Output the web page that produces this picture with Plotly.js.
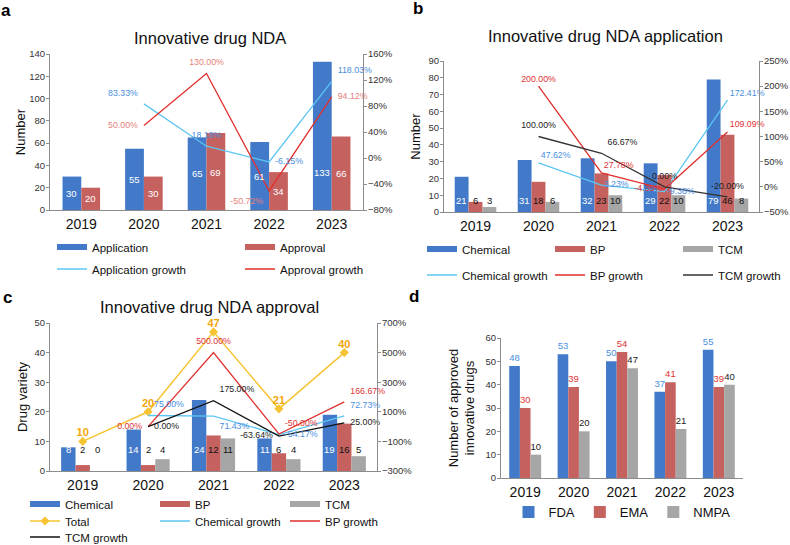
<!DOCTYPE html>
<html><head><meta charset="utf-8">
<script src="https://cdn.plot.ly/plotly-3.0.1.min.js"></script>
<style>html,body{margin:0;padding:0;background:#fff}#chart{width:790px;height:545px}</style>
</head><body><div id="chart"></div>
<script>
// ---------- DATA ----------
const years = ['2019','2020','2021','2022','2023'];
// a: Innovative drug NDA
const ndaApplication = [30,55,65,61,133];
const ndaApproval = [20,30,69,34,66];
const ndaApplicationGrowth = [null,83.33,18.18,-6.15,118.03];
const ndaApprovalGrowth = [null,50.00,130.00,-50.72,94.12];
// b: Innovative drug NDA application
const appChemical = [21,31,32,29,79];
const appBP = [6,18,23,22,46];
const appTCM = [3,6,10,10,8];
const appChemicalGrowth = [null,47.62,3.23,-9.38,172.41];
const appBPGrowth = [null,200.00,27.78,-4.35,109.09];
const appTCMGrowth = [null,100.00,66.67,0.00,-20.00];
// c: Innovative drug NDA approval
const aprChemical = [8,14,24,11,19];
const aprBP = [2,2,12,6,16];
const aprTCM = [0,4,11,4,5];
const aprTotal = [10,20,47,21,40];
const aprChemicalGrowth = [null,75.00,71.43,-54.17,72.73];
const aprBPGrowth = [null,0.00,500.00,-50.00,166.67];
const aprTCMGrowth = [null,0.00,175.00,-63.64,25.00];
// d: approved innovative drugs by agency
const fda = [48,53,50,37,55];
const ema = [30,39,54,41,39];
const nmpa = [10,20,47,21,40];

// ---------- STYLE ----------
const F = 'Arial, "Liberation Sans", Helvetica, sans-serif';
const C = {blue:'#4279C8', red:'#C5625F', gray:'#A6A6A6', lblue:'#5CC6F3', lred:'#E0302E',
  black:'#333333', yellow:'#F6C433', gold:'#F2A60C', blueTxt:'#4A8FE0', redTxtA:'#E57F7B', redTxt:'#E03333'};
const axLine = '#8C8C8C';
const GS = 8.8; // growth label font size
const px = x => x/790, py = y => 1 - y/545;
const pct = arr => arr.map(v => v === null ? '' : v.toFixed(2) + '%');

const traces = [];
const annotations = [];

function bar(name, xa, ya, vals, color, width, offset, extra) {
  return Object.assign({type:'bar', name, x: years, y: vals, xaxis: xa, yaxis: ya, width, offset,
    marker:{color, line:{width:0}}, showlegend:false, hoverinfo:'none'}, extra || {});
}
function line(name, xa, ya, vals, color, lw, legend, extra) {
  return Object.assign({type:'scatter', mode:'lines', name, x: years, y: vals, xaxis: xa, yaxis: ya,
    line:{color, width: lw}, legend, hoverinfo:'none', cliponaxis:false}, extra || {});
}
function labels(xa, ya, vals, txt, color, positions, size, bold, pad) {
  return {type:'scatter', mode:'markers+text', x: years, y: vals, xaxis: xa, yaxis: ya, text: txt,
    textposition: positions, marker:{size: pad === undefined ? 8 : pad, color:'rgba(0,0,0,0)'},
    textfont:{family:F, size: size || 9, color, weight: bold ? 'bold' : 'normal'},
    showlegend:false, hoverinfo:'none', cliponaxis:false};
}
function legendBar(name, color, legend, xa, ya) {
  return {type:'scatter', mode:'lines', name, x:[null], y:[null], xaxis: xa, yaxis: ya,
    line:{color, width:6}, legend, hoverinfo:'none'};
}
function barLabels(xa, ya, series, width, colors, yFn, yshift, size) {
  const n = series.length;
  series.forEach((vals, k) => {
    const off = (k - (n - 1) / 2) * width;
    vals.forEach((v, i) => annotations.push({xref: xa, yref: ya, x: i + off, y: yFn(v), text: String(v),
      showarrow:false, yshift, xanchor:'center', yanchor:'middle',
      font:{family:F, size: size, color: colors[k]}}));
  });
}

// ---------- PANEL a ----------
traces.push(bar('Application','x','y',ndaApplication,C.blue,0.3,-0.3));
traces.push(bar('Approval','x','y',ndaApproval,C.red,0.3,0));
traces.push(legendBar('Application',C.blue,'legend','x','y'));
traces.push(legendBar('Approval',C.red,'legend','x','y'));
traces.push(line('Application growth','x','y2',ndaApplicationGrowth,C.lblue,1.3,'legend2'));
traces.push(line('Approval growth','x','y2',ndaApprovalGrowth,C.lred,1.3,'legend2'));
traces.push(labels('x','y2',ndaApplicationGrowth,pct(ndaApplicationGrowth),C.blueTxt,
  ['top center','top left','top center','middle right','top right'],GS));
traces.push(labels('x','y2',ndaApprovalGrowth,pct(ndaApprovalGrowth),C.redTxtA,
  ['top center','middle left','top center','bottom left','middle right'],GS));
barLabels('x','y',[ndaApplication, ndaApproval],0.3,['#ffffff','#ffffff'],v => Math.min(v/2,34),0,9.5);

// ---------- PANEL b ----------
traces.push(bar('Chemical','x2','y3',appChemical,C.blue,0.22,-0.33));
traces.push(bar('BP','x2','y3',appBP,C.red,0.22,-0.11));
traces.push(bar('TCM','x2','y3',appTCM,C.gray,0.22,0.11));
traces.push(legendBar('Chemical',C.blue,'legend3','x2','y3'));
traces.push(legendBar('BP',C.red,'legend3','x2','y3'));
traces.push(legendBar('TCM',C.gray,'legend3','x2','y3'));
traces.push(line('Chemical growth','x2','y4',appChemicalGrowth,C.lblue,1.3,'legend4'));
traces.push(line('BP growth','x2','y4',appBPGrowth,C.lred,1.3,'legend4'));
traces.push(line('TCM growth','x2','y4',appTCMGrowth,C.black,1.3,'legend4'));
traces.push(labels('x2','y4',appChemicalGrowth,pct(appChemicalGrowth),C.blueTxt,
  ['top center','top right','middle right','middle right','top right'],GS,false,2));
traces.push(labels('x2','y4',appBPGrowth,pct(appBPGrowth),C.redTxt,
  ['top center','top center','top right','middle left','top right'],GS,false,2));
traces.push(labels('x2','y4',appTCMGrowth,pct(appTCMGrowth),'#222222',
  ['top center','top center','top right','top center','top center'],GS));
barLabels('x2','y3',[appChemical, appBP, appTCM],0.22,['#ffffff','#111111','#111111'],v => 0,11,9.5);

// ---------- PANEL c ----------
traces.push(bar('Chemical','x3','y5',aprChemical,C.blue,0.22,-0.33));
traces.push(bar('BP','x3','y5',aprBP,C.red,0.22,-0.11));
traces.push(bar('TCM','x3','y5',aprTCM,C.gray,0.22,0.11));
traces.push(legendBar('Chemical',C.blue,'legend5','x3','y5'));
traces.push(legendBar('BP',C.red,'legend5','x3','y5'));
traces.push(legendBar('TCM',C.gray,'legend5','x3','y5'));
traces.push(line('Total','x3','y5',aprTotal,C.yellow,1.5,'legend6',
  {mode:'lines+markers', marker:{symbol:'diamond', size:7, color:C.yellow}, legendrank:1}));
traces.push(line('Chemical growth','x3','y6',aprChemicalGrowth,C.lblue,1.3,'legend6',{legendrank:2}));
traces.push(line('BP growth','x3','y6',aprBPGrowth,C.lred,1.3,'legend6',{legendrank:3}));
traces.push(line('TCM growth','x3','y6',aprTCMGrowth,'#111111',1.3,'legend7'));
traces.push(labels('x3','y6',aprChemicalGrowth,pct(aprChemicalGrowth),C.blueTxt,
  ['top center','top right','bottom right','middle right','top right'],GS));
traces.push(labels('x3','y6',aprBPGrowth,pct(aprBPGrowth),C.redTxt,
  ['top center','middle left','top center','top right','top right'],GS));
traces.push(labels('x3','y6',aprTCMGrowth,pct(aprTCMGrowth),'#222222',
  ['top center','middle right','top right','middle left','middle right'],GS));
traces.push(labels('x3','y5',aprTotal,aprTotal.map(String),C.gold,
  ['top center','top center','top center','top center','top center'],11,true,2));
barLabels('x3','y5',[aprChemical, aprBP, aprTCM],0.22,['#ffffff','#111111','#111111'],v => 0,22,9.5);

// ---------- PANEL d ----------
const dText = (vals, color) => ({text: vals.map(String), textposition:'outside',
  textfont:{family:F, size:9.5, color}, cliponaxis:false, showlegend:true, legend:'legend8'});
traces.push(bar('FDA','x4','y7',fda,C.blue,0.22,-0.33,dText(fda,C.blueTxt)));
traces.push(bar('EMA','x4','y7',ema,C.red,0.22,-0.11,dText(ema,C.redTxt)));
traces.push(bar('NMPA','x4','y7',nmpa,C.gray,0.22,0.11,dText(nmpa,'#222222')));

// ---------- PANEL LETTERS & TITLES ----------
[['a',6,10],['b',418,9],['c',7,297],['d',414,296]].forEach(([t,x,y]) => annotations.push({
  xref:'paper', yref:'paper', x: px(x), y: py(y), text: t, showarrow:false, xanchor:'center', yanchor:'middle',
  font:{family:F, size:17, color:'#000', weight:'bold'}}));
[['Innovative drug NDA',210,38],['Innovative drug NDA application',605,36],['Innovative drug NDA approval',210,307]]
  .forEach(([t,x,y]) => annotations.push({xref:'paper', yref:'paper', x: px(x), y: py(y), text: t,
    showarrow:false, xanchor:'center', yanchor:'middle', font:{family:F, size:16.5, color:'#111'}}));

// ---------- AXES ----------
const tickFont = {family:F, size:9.5, color:'#333'};
const catFont = {family:F, size:14, color:'#111'};
function xax(d0, d1, anchor) {
  return {domain:[px(d0), px(d1)], anchor, type:'category', range:[-0.5,4.5], showline:true, linecolor:axLine,
    linewidth:1, ticks:'', tickfont:catFont, showgrid:false, zeroline:false, ticklabelstandoff:1, fixedrange:true};
}
function yleft(top, bottom, anchor, range, dtick, title, standoff) {
  return {domain:[py(bottom), py(top)], anchor, range, dtick, tick0:0, showline:true, linecolor:axLine,
    ticks:'outside', ticklen:3, tickcolor:axLine, tickfont:tickFont, ticklabelstandoff:-1,
    showgrid:false, zeroline:false, fixedrange:true,
    title:{text:title, standoff, font:{family:F, size:13, color:'#111'}}};
}
function yright(overlay, anchor, range, dtick, tick0) {
  return {overlaying: overlay, anchor, side:'right', range, dtick, tick0, ticksuffix:'%', showline:true,
    linecolor:axLine, ticks:'outside', ticklen:3, tickcolor:axLine, tickfont:tickFont, ticklabelstandoff:-1,
    showgrid:false, zeroline:false, fixedrange:true};
}
function leg(x, y, ew, size, xanchor) {
  return {orientation:'h', x: px(x), y: py(y), xanchor: xanchor || 'left', yanchor:'middle',
    bgcolor:'rgba(0,0,0,0)', borderwidth:0, font:{family:F, size, color:'#111'},
    entrywidth: ew, entrywidthmode:'pixels', itemwidth:30, traceorder:'normal'};
}

const layout = {
  width:790, height:545, autosize:false, margin:{l:0, r:0, t:0, b:0, autoexpand:false},
  paper_bgcolor:'#ffffff', plot_bgcolor:'rgba(0,0,0,0)', font:{family:F, color:'#111'},
  barmode:'overlay',
  xaxis: xax(50,363,'y'),
  yaxis: yleft(54,210,'x',[0,140],20,'Number',0),
  yaxis2: yright('y','x',[-80,160],40,0),
  xaxis2: xax(444,759,'y3'),
  yaxis3: yleft(61,212,'x2',[0,90],10,'Number',4),
  yaxis4: yright('y3','x2',[-50,250],50,0),
  xaxis3: xax(50,377,'y5'),
  yaxis5: yleft(323,471,'x3',[0,50],10,'Drug variety',3),
  yaxis6: yright('y5','x3',[-300,700],200,-300),
  xaxis4: xax(501,743,'y7'),
  yaxis7: yleft(338,478,'x4',[0,60],10,'Number of approved<br>innovative drugs',7),
  legend: leg(52,247,143,11.5),
  legend2: leg(52,269,143,11.5),
  legend3: leg(422,249,83,11.5),
  legend4: leg(422,275,83,11.5),
  legend5: leg(25,504,85,11.5),
  legend6: leg(25,521,85,11.5),
  legend7: leg(25,537,85,11.5),
  legend8: leg(622,512,0,13,'center'),
  annotations,
  showlegend:true
};

Plotly.newPlot('chart', traces, layout, {displayModeBar:false, staticPlot:true});
</script>
</body></html>
